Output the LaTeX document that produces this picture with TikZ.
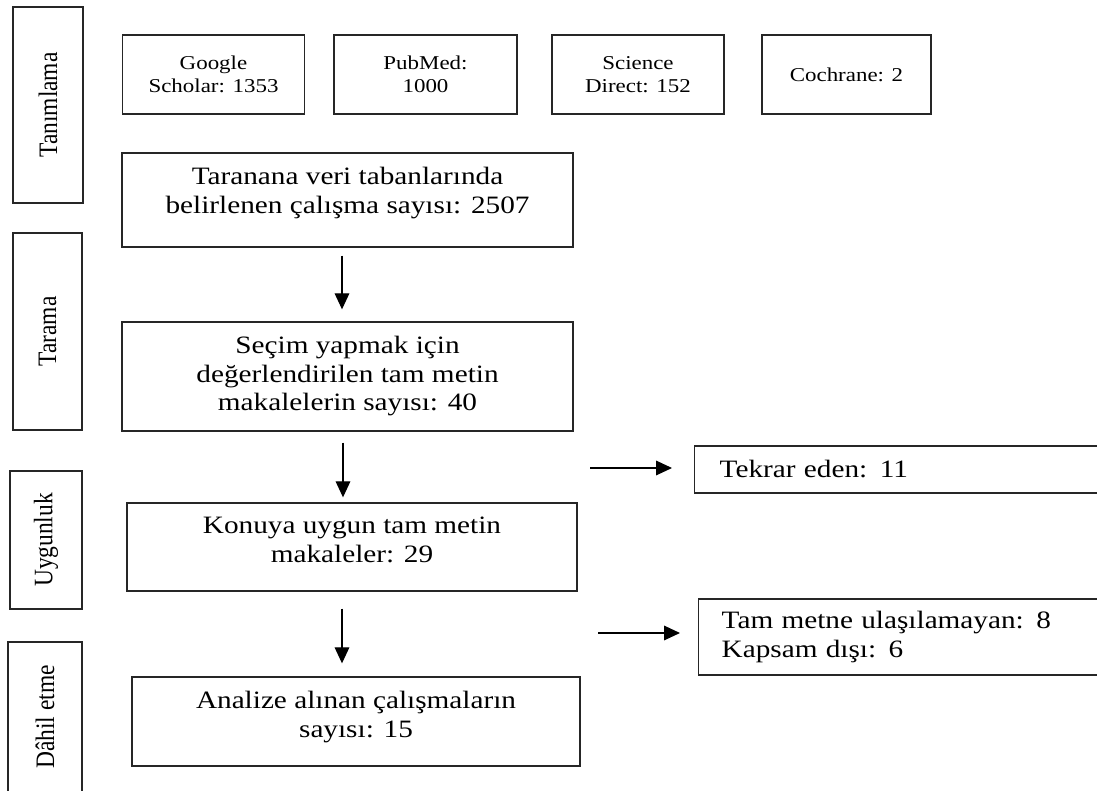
\documentclass[tikz,border=0pt]{standalone}
\usepackage{fontspec}
\setmainfont{Liberation Serif}[FakeStretch=1.17]
\newfontfamily\stagefont{Liberation Serif}[FakeStretch=0.88]
\usepackage{tikz}
\usetikzlibrary{arrows.meta}

\newlength{\pxu}
\setlength{\pxu}{0.75pt}
\newcommand{\boxtext}[3]{\parbox[c][#2\pxu][t]{#1\pxu}{\centering\vspace*{10.5pt}#3}}

\begin{document}
\begin{tikzpicture}[
x=0.75pt,
y=-0.75pt,
line width=1pt,
every node/.style={draw=black!85},
stage/.style={
rotate=90,
inner sep=0pt,
font=\fontsize{20pt}{24pt}\stagefont
},
source/.style={
inner sep=0pt,
align=center,
minimum height=79\pxu,
font=\fontsize{14.7pt}{16.8pt}\selectfont
},
mainbox/.style={
inner sep=0pt,
font=\fontsize{18.75pt}{21.5pt}\selectfont
},
sidebox/.style={
anchor=west,
align=left,
inner ysep=0pt,
font=\fontsize{18.75pt}{21.5pt}\selectfont
},
arr/.style={
-{Triangle[length=12pt,width=11pt]},
line width=0.9pt
}
]

\useasboundingbox (0,0) rectangle (1097,791);

% stages
\node[stage,minimum width=196\pxu,minimum height=70\pxu] (tanimlama) at (48,105) {Tanımlama};
\node[stage,minimum width=197\pxu,minimum height=69\pxu] (tarama) at (47.5,331.5) {Tarama};
\node[stage,minimum width=138\pxu,minimum height=72\pxu] (uygunluk) at (46,540) {Uygunluk};
\node[stage,minimum width=150\pxu,minimum height=74\pxu] (dahil) at (45,717) {Dâhil etme};

% databases
\node[source,minimum width=182\pxu] (google) at (213.5,74.5) {Google\\Scholar: 1353};
\node[source,minimum width=183\pxu] (pubmed) at (425.5,74.5) {PubMed:\\1000};
\node[source,minimum width=172\pxu] (science) at (638,74.5) {Science\\Direct: 152};
\node[source,minimum width=169\pxu] (cochrane) at (846.5,74.5) {Cochrane: 2};

% main flow
\node[mainbox] (b1) at (347.5,200) {\boxtext{451}{94}{Taranana veri tabanlarında\\belirlenen çalışma sayısı: 2507}};
\node[mainbox] (b2) at (347.5,376.5) {\boxtext{451}{109}{Seçim yapmak için\\değerlendirilen tam metin\\makalelerin sayısı: 40}};
\node[mainbox] (b3) at (352,547) {\boxtext{450}{88}{Konuya uygun tam metin\\makaleler: 29}};
\node[mainbox] (b4) at (356,721.5) {\boxtext{448}{89}{Analize alınan çalışmaların\\sayısı: 15}};

% excluded
\node[sidebox,inner xsep=25\pxu,text width=396\pxu,minimum height=47\pxu] (tekrar) at (694,469.5) {Tekrar eden: 11};
\node[sidebox,inner xsep=23\pxu,text width=396\pxu,minimum height=76\pxu] (tam) at (698,637) {Tam metne ulaşılamayan: 8\\Kapsam dışı: 6};

\coordinate (r1) at (590,468);
\coordinate (r2) at (598,633);

\draw[arr] ([xshift=-5.5\pxu,yshift=-8\pxu]b1.south) -- ([xshift=-5.5\pxu,yshift=12\pxu]b2.north);
\draw[arr] ([xshift=-4.5\pxu,yshift=-11\pxu]b2.south) -- ([xshift=-9\pxu,yshift=5\pxu]b3.north);
\draw[arr] ([xshift=-10\pxu,yshift=-17\pxu]b3.south) -- ([xshift=-14\pxu,yshift=13\pxu]b4.north);
\draw[arr] (r1) -- ([xshift=-22\pxu]r1 -| tekrar.west);
\draw[arr] (r2) -- ([xshift=-18\pxu]r2 -| tam.west);

\end{tikzpicture}
\end{document}
